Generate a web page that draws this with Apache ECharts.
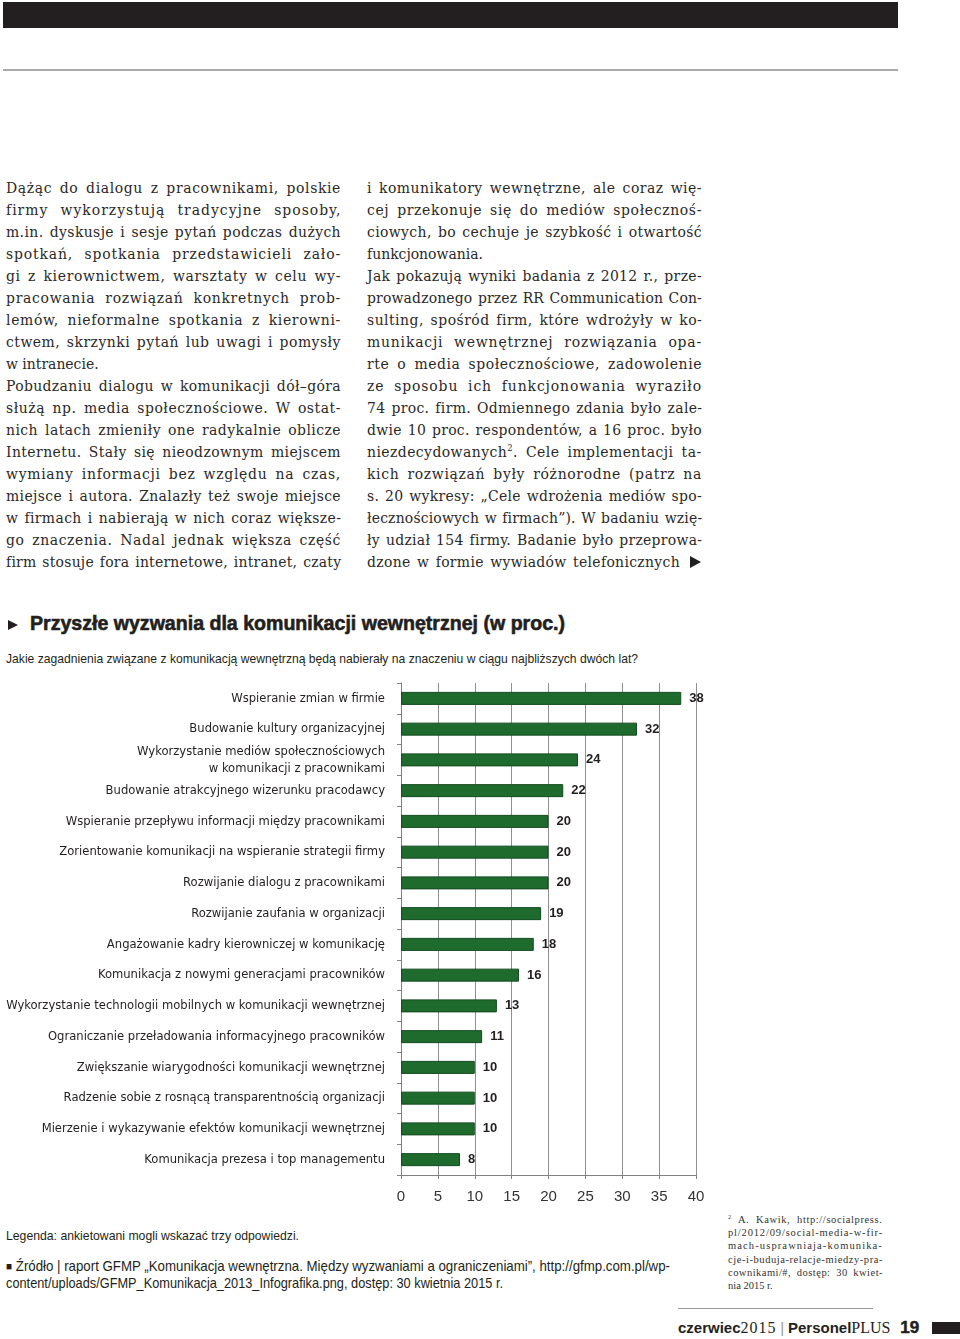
<!DOCTYPE html>
<html><head><meta charset="utf-8">
<script src="https://cdn.jsdelivr.net/npm/echarts@6/dist/echarts.min.js"></script>
<style>
html,body{margin:0;padding:0;background:#fff;}
body{width:960px;height:1339px;position:relative;overflow:hidden;color:#231f20;}
.abs{position:absolute;}
.col{position:absolute;top:177px;width:335px;font-family:"DejaVu Serif",serif;font-stretch:condensed;font-size:15.5px;line-height:22px;color:#2b2829;}
.ln{white-space:nowrap;height:22px;}
.ln span{white-space:nowrap;}
.sans{font-family:"Liberation Sans",Arial,sans-serif;}
.fit{transform-origin:0 0;white-space:nowrap;}
.fn{position:absolute;left:728px;top:1213px;width:155px;font-family:"Liberation Serif",serif;font-size:10.5px;line-height:13.2px;color:#333;}
.fn .ln{height:13.2px;}
</style></head>
<body>
<div class="abs" style="left:3px;top:2px;width:895px;height:26px;background:#231f20;"></div>
<div class="abs" style="left:3px;top:69px;width:895px;height:2px;background:#aaa;"></div>

<div class="col" id="c1" style="left:6px;"></div>
<div class="col" id="c2" style="left:367px;"></div>

<div class="abs" style="left:8px;top:620px;width:0;height:0;border-top:5px solid transparent;border-bottom:5px solid transparent;border-left:10px solid #231f20;"></div>
<div class="abs sans fit" data-w="535" style="left:30px;top:612px;font-size:20px;font-weight:bold;-webkit-text-stroke:0.6px #231f20;color:#231f20;">Przyszłe wyzwania dla komunikacji wewnętrznej (w proc.)</div>
<div class="abs sans fit" data-w="632" style="left:6px;top:651px;font-size:13.5px;color:#231f20;">Jakie zagadnienia związane z komunikacją wewnętrzną będą nabierały na znaczeniu w ciągu najbliższych dwóch lat?</div>

<div id="chart" class="abs" style="left:0;top:670px;width:720px;height:550px;"></div>

<div class="abs sans fit" data-w="293" style="left:6px;top:1228px;font-size:13.5px;color:#231f20;">Legenda: ankietowani mogli wskazać trzy odpowiedzi.</div>
<div class="abs sans fit" data-w="664" style="left:6px;top:1258px;font-size:14.5px;line-height:17px;color:#231f20;"><span style="font-size:11px;vertical-align:1px;">■</span> Źródło | raport GFMP „Komunikacja wewnętrzna. Między wyzwaniami a ograniczeniami”, http://gfmp.com.pl/wp-</div>
<div class="abs sans fit" data-w="497" style="left:6px;top:1275px;font-size:14.5px;line-height:17px;color:#231f20;">content/uploads/GFMP_Komunikacja_2013_Infografika.png, dostęp: 30 kwietnia 2015 r.</div>

<div class="fn" id="fn"></div>

<div class="abs" style="left:678px;top:1308px;width:195px;height:1px;background:#999;"></div>
<div class="abs" style="left:678px;top:1318px;white-space:nowrap;font-size:15px;line-height:20px;color:#231f20;">
<span style="font-family:'Liberation Sans',Arial;font-weight:bold;">czerwiec</span><span style="font-family:'Liberation Serif',serif;font-size:16px;letter-spacing:1px;">2015</span>
<span style="color:#999;font-family:'Liberation Sans';">|</span>
<span style="font-family:'Liberation Sans',Arial;font-weight:bold;">Personel</span><span style="font-family:'Liberation Serif',serif;font-size:16px;">PLUS</span>
<span style="font-family:'Liberation Sans',Arial;font-weight:900;font-size:17px;margin-left:6px;-webkit-text-stroke:0.5px #231f20;">19</span>
</div>
<div class="abs" style="left:932px;top:1322px;width:28px;height:12px;background:#231f20;"></div>

<script>
// ---------- chart data ----------
const categories = [
  "Wspieranie zmian w firmie",
  "Budowanie kultury organizacyjnej",
  "Wykorzystanie mediów społecznościowych\nw komunikacji z pracownikami",
  "Budowanie atrakcyjnego wizerunku pracodawcy",
  "Wspieranie przepływu informacji między pracownikami",
  "Zorientowanie komunikacji na wspieranie strategii firmy",
  "Rozwijanie dialogu z pracownikami",
  "Rozwijanie zaufania w organizacji",
  "Angażowanie kadry kierowniczej w komunikację",
  "Komunikacja z nowymi generacjami pracowników",
  "Wykorzystanie technologii mobilnych w komunikacji wewnętrznej",
  "Ograniczanie przeładowania informacyjnego pracowników",
  "Zwiększanie wiarygodności komunikacji wewnętrznej",
  "Radzenie sobie z rosnącą transparentnością organizacji",
  "Mierzenie i wykazywanie efektów komunikacji wewnętrznej",
  "Komunikacja prezesa i top managementu"
];
const values = [38, 32, 24, 22, 20, 20, 20, 19, 18, 16, 13, 11, 10, 10, 10, 8];
const xTicks = [0, 5, 10, 15, 20, 25, 30, 35, 40];

// ---------- body text (lines; '|' marks paragraph-final line) ----------
const col1 = [
  "Dążąc do dialogu z pracownikami, polskie",
  "firmy wykorzystują tradycyjne sposoby,",
  "m.in. dyskusje i sesje pytań podczas dużych",
  "spotkań, spotkania przedstawicieli zało-",
  "gi z kierownictwem, warsztaty w celu wy-",
  "pracowania rozwiązań konkretnych prob-",
  "lemów, nieformalne spotkania z kierowni-",
  "ctwem, skrzynki pytań lub uwagi i pomysły",
  "|w intranecie.",
  "Pobudzaniu dialogu w komunikacji dół–góra",
  "służą np. media społecznościowe. W ostat-",
  "nich latach zmieniły one radykalnie oblicze",
  "Internetu. Stały się nieodzownym miejscem",
  "wymiany informacji bez względu na czas,",
  "miejsce i autora. Znalazły też swoje miejsce",
  "w firmach i nabierają w nich coraz większe-",
  "go znaczenia. Nadal jednak większa część",
  "firm stosuje fora internetowe, intranet, czaty"
];
const col2 = [
  "i komunikatory wewnętrzne, ale coraz wię-",
  "cej przekonuje się do mediów społecznoś-",
  "ciowych, bo cechuje je szybkość i otwartość",
  "|funkcjonowania.",
  "Jak pokazują wyniki badania z 2012 r., prze-",
  "prowadzonego przez RR Communication Con-",
  "sulting, spośród firm, które wdrożyły w ko-",
  "munikacji wewnętrznej rozwiązania opa-",
  "rte o media społecznościowe, zadowolenie",
  "ze sposobu ich funkcjonowania wyraziło",
  "74 proc. firm. Odmiennego zdania było zale-",
  "dwie 10 proc. respondentów, a 16 proc. było",
  "niezdecydowanych^2. Cele implementacji ta-",
  "kich rozwiązań były różnorodne (patrz na",
  "s. 20 wykresy: „Cele wdrożenia mediów spo-",
  "łecznościowych w firmach”). W badaniu wzię-",
  "ły udział 154 firmy. Badanie było przeprowa-",
  "#dzone w formie wywiadów telefonicznych"
];
const footnote = [
  "^2 A. Kawik, http://socialpress.",
  "pl/2012/09/social-media-w-fir-",
  "mach-usprawniaja-komunika-",
  "cje-i-buduja-relacje-miedzy-pra-",
  "cownikami/#, dostęp: 30 kwiet-",
  "|nia 2015 r."
];

function fillCol(el, lines, target) {
  lines.forEach(raw => {
    let last = false, arrow = false, t = raw;
    if (t[0] === '|') { last = true; t = t.slice(1); }
    if (t[0] === '#') { arrow = true; t = t.slice(1); }
    const d = document.createElement('div');
    d.className = 'ln';
    const s = document.createElement('span');
    s.innerHTML = t.replace(/\^2/g, '<sup style="font-size:0.6em;line-height:0;">2</sup>');
    d.appendChild(s);
    el.appendChild(d);
    const tgt = arrow ? target - 22 : target;
    if (!last) {
      const w = s.getBoundingClientRect().width;
      const n = t.length;
      const spaces = (t.match(/ /g) || []).length;
      const extra = tgt - w;
      if (extra > 0 && spaces > 0) {
        s.style.wordSpacing = (extra * 0.35 / spaces) + 'px';
        s.style.letterSpacing = (extra * 0.65 / n) + 'px';
      } else {
        s.style.letterSpacing = (extra / n) + 'px';
      }
    }
    if (arrow) {
      const a = document.createElement('span');
      a.style.cssText = 'display:inline-block;width:0;height:0;border-top:6px solid transparent;border-bottom:6px solid transparent;border-left:11px solid #231f20;margin-left:10px;vertical-align:-1px;';
      d.appendChild(a);
    }
  });
}
fillCol(document.getElementById('c1'), col1, 335);
fillCol(document.getElementById('c2'), col2, 335);
fillCol(document.getElementById('fn'), footnote, 155);

document.querySelectorAll('.fit').forEach(el => {
  const w = el.getBoundingClientRect().width;
  const tgt = +el.dataset.w;
  el.style.transform = 'scaleX(' + (tgt / w) + ')';
});

// ---------- choose a condensed sans for chart labels ----------
const cv = document.createElement('canvas').getContext('2d');
function widthOf(font, txt) { cv.font = font; return cv.measureText(txt).width; }
const probe = 'Wykorzystanie technologii mobilnych w komunikacji wewnętrznej';
let labelFamily = 'Liberation Sans, Arial, sans-serif';
const cand = ['Liberation Sans Narrow', 'DejaVu Sans Condensed', 'Roboto Condensed'];
for (const c of cand) {
  if (widthOf('14px "' + c + '", monospace', probe) !== widthOf('14px monospace', probe)) {
    labelFamily = '"' + c + '", Liberation Sans, sans-serif'; break;
  }
}
const natural = widthOf('14px ' + labelFamily, probe);
const labelSize = Math.max(11, Math.min(15, 14 * 379 / natural));

// ---------- chart ----------
const chart = echarts.init(document.getElementById('chart'), null, {renderer: 'canvas'});
chart.setOption({
  animation: false,
  grid: {left: 401, top: 13, width: 295, height: 492, containLabel: false, outerBoundsMode: 'none'},
  xAxis: {
    type: 'value', min: xTicks[0], max: xTicks[xTicks.length - 1], interval: xTicks[1] - xTicks[0],
    axisLine: {show: true, lineStyle: {color: '#808080', width: 1}},
    axisTick: {show: true, length: 4, lineStyle: {color: '#808080'}},
    splitLine: {show: true, lineStyle: {color: '#8f8f8f', width: 1}},
    axisLabel: {fontSize: 15, color: '#333', margin: 14, fontFamily: 'Liberation Sans, Arial, sans-serif'}
  },
  yAxis: {
    type: 'category', inverse: true, data: categories,
    axisLine: {show: true, lineStyle: {color: '#808080', width: 1}},
    axisTick: {show: true, length: 4, lineStyle: {color: '#808080'}},
    axisLabel: {margin: 16, fontSize: labelSize, color: '#231f20', lineHeight: 17, fontFamily: labelFamily}
  },
  series: [{
    type: 'bar', data: values, barWidth: 13,
    itemStyle: {color: '#1f6b2e', borderColor: '#144a1f', borderWidth: 1},
    label: {show: true, position: 'right', distance: 8, fontWeight: 'bold', fontSize: 13,
      color: '#231f20', fontFamily: 'Liberation Sans, Arial, sans-serif'}
  }]
});
</script>
</body></html>
